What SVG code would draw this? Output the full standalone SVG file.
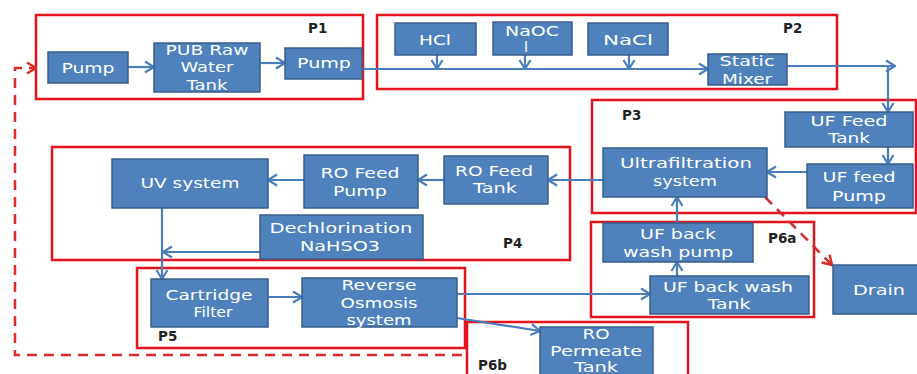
<svg xmlns="http://www.w3.org/2000/svg" width="917" height="374" viewBox="0 0 917 374">
<style>
.bg{fill:#ffffff}
.box{fill:#4F81BD;stroke:#385D8A;stroke-width:1.5}
.t{font-family:"DejaVu Sans","Liberation Sans",sans-serif;font-size:14.5px;fill:#ffffff;text-anchor:middle}
.grp{fill:none;stroke:#E3131B;stroke-width:2.5}
.lbl{font-family:"DejaVu Sans","Liberation Sans",sans-serif;font-size:13.5px;font-weight:bold;fill:#222222}
.c{fill:none;stroke:#4A7EBB;stroke-width:2.2;marker-end:url(#ab)}
.d{fill:none;stroke:#D92B2B;stroke-width:2.5;stroke-dasharray:10 7;marker-end:url(#ar)}
</style>
<defs>
<marker id="ab" viewBox="0 0 12 14" refX="11" refY="7" markerWidth="12" markerHeight="14" markerUnits="userSpaceOnUse" orient="auto">
<path d="M2,1.5 L11,7 L2,12.5" fill="none" stroke="#4A7EBB" stroke-width="2.2"/>
</marker>
<marker id="ar" viewBox="0 0 12 14" refX="11" refY="7" markerWidth="12" markerHeight="14" markerUnits="userSpaceOnUse" orient="auto">
<path d="M2,1.5 L11,7 L2,12.5" fill="none" stroke="#D92B2B" stroke-width="2.5"/>
</marker>
</defs>
<rect class="bg" x="0" y="0" width="917" height="374"/>

<g id="groups">
<g id="P1"><rect class="grp" x="36" y="15" width="327" height="84"/><text class="lbl" x="308" y="33">P1</text></g>
<g id="P2"><rect class="grp" x="377" y="15" width="460" height="74"/><text class="lbl" x="783" y="33">P2</text></g>
<g id="P3"><rect class="grp" x="592" y="100" width="324" height="113"/><text class="lbl" x="622" y="120">P3</text></g>
<g id="P4"><rect class="grp" x="52" y="147" width="518" height="113"/><text class="lbl" x="503" y="248">P4</text></g>
<g id="P5"><rect class="grp" x="137" y="268" width="328" height="80"/><text class="lbl" x="158" y="341">P5</text></g>
<g id="P6a"><rect class="grp" x="591" y="222" width="223" height="95"/><text class="lbl" x="768" y="243">P6a</text></g>
<g id="P6b"><rect class="grp" x="467" y="322" width="221" height="60"/><text class="lbl" x="478" y="370">P6b</text></g>
</g>

<g id="connectors">
<path class="c" d="M128,67 L154,67"/>
<path class="c" d="M260,63 L285,63"/>
<path class="c" d="M362,69 L708,69"/>
<path class="c" d="M437,55 L437,69"/>
<path class="c" d="M525,55 L525,69"/>
<path class="c" d="M629,55 L629,69"/>
<path class="c" d="M787,66 L895,66"/>
<path class="c" d="M888,66 L888,112"/>
<path class="c" d="M888,147 L888,164"/>
<path class="c" d="M807,172 L767,172"/>
<path class="c" d="M603,180 L548,180"/>
<path class="c" d="M444,180 L418,180"/>
<path class="c" d="M304,180 L268,180"/>
<path class="c" d="M162,208 L162,279"/>
<path class="c" d="M260,252 L163,252"/>
<path class="c" d="M268,297 L302,297"/>
<path class="c" d="M457,294 L650,294"/>
<path class="c" d="M457,318 L540,331"/>
<path class="c" d="M677,276 L677,262"/>
<path class="c" d="M677,223 L677,197"/>
<path class="d" d="M765,197 L832,265"/>
<path class="d" d="M462,355 L15,355 L15,68 L36,68"/>
</g>

<g id="n-pump1"><rect class="box" x="48" y="52" width="80" height="31"/><text class="t" x="88" y="73" textLength="53" lengthAdjust="spacingAndGlyphs">Pump</text></g>
<g id="n-pub"><rect class="box" x="154" y="43" width="106" height="49"/>
<text class="t" x="207" y="55" textLength="83" lengthAdjust="spacingAndGlyphs">PUB Raw</text>
<text class="t" x="207" y="72" textLength="53" lengthAdjust="spacingAndGlyphs">Water</text>
<text class="t" x="207" y="90" textLength="41" lengthAdjust="spacingAndGlyphs">Tank</text></g>
<g id="n-pump2"><rect class="box" x="285" y="48" width="77" height="31"/><text class="t" x="324" y="68" textLength="54" lengthAdjust="spacingAndGlyphs">Pump</text></g>
<g id="n-hcl"><rect class="box" x="395" y="23" width="81" height="32"/><text class="t" x="435" y="45" textLength="32" lengthAdjust="spacingAndGlyphs">HCl</text></g>
<g id="n-naocl"><rect class="box" x="493" y="22" width="79" height="33"/>
<text class="t" x="532" y="36" textLength="54" lengthAdjust="spacingAndGlyphs">NaOC</text>
<text class="t" x="526" y="52">l</text></g>
<g id="n-nacl"><rect class="box" x="588" y="23" width="80" height="32"/><text class="t" x="628" y="45" textLength="50" lengthAdjust="spacingAndGlyphs">NaCl</text></g>
<g id="n-mixer"><rect class="box" x="708" y="54" width="79" height="31"/>
<text class="t" x="747" y="66" textLength="55" lengthAdjust="spacingAndGlyphs">Static</text>
<text class="t" x="747" y="84" textLength="50" lengthAdjust="spacingAndGlyphs">Mixer</text></g>
<g id="n-ufft"><rect class="box" x="785" y="112" width="128" height="35"/>
<text class="t" x="849" y="126" textLength="77" lengthAdjust="spacingAndGlyphs">UF Feed</text>
<text class="t" x="849" y="143" textLength="42" lengthAdjust="spacingAndGlyphs">Tank</text></g>
<g id="n-ufpump"><rect class="box" x="807" y="164" width="106" height="44"/>
<text class="t" x="859" y="182" textLength="73" lengthAdjust="spacingAndGlyphs">UF feed</text>
<text class="t" x="859" y="201" textLength="54" lengthAdjust="spacingAndGlyphs">Pump</text></g>
<g id="n-uf"><rect class="box" x="603" y="148" width="164" height="49"/>
<text class="t" x="686" y="168" textLength="132" lengthAdjust="spacingAndGlyphs">Ultrafiltration</text>
<text class="t" x="685" y="186" textLength="64" lengthAdjust="spacingAndGlyphs">system</text></g>
<g id="n-bwpump"><rect class="box" x="603" y="223" width="150" height="39"/>
<text class="t" x="678" y="239" textLength="76" lengthAdjust="spacingAndGlyphs">UF back</text>
<text class="t" x="678" y="257" textLength="110" lengthAdjust="spacingAndGlyphs">wash pump</text></g>
<g id="n-bwtank"><rect class="box" x="650" y="276" width="159" height="38"/>
<text class="t" x="728" y="292" textLength="130" lengthAdjust="spacingAndGlyphs">UF back wash</text>
<text class="t" x="729" y="309" textLength="43" lengthAdjust="spacingAndGlyphs">Tank</text></g>
<g id="n-drain"><rect class="box" x="833" y="265" width="86" height="49"/><text class="t" x="879" y="295" textLength="52" lengthAdjust="spacingAndGlyphs">Drain</text></g>
<g id="n-roft"><rect class="box" x="444" y="156" width="104" height="48"/>
<text class="t" x="494" y="176" textLength="78" lengthAdjust="spacingAndGlyphs">RO Feed</text>
<text class="t" x="495" y="193" textLength="44" lengthAdjust="spacingAndGlyphs">Tank</text></g>
<g id="n-rofp"><rect class="box" x="304" y="155" width="114" height="53"/>
<text class="t" x="360" y="178" textLength="79" lengthAdjust="spacingAndGlyphs">RO Feed</text>
<text class="t" x="360" y="196" textLength="54" lengthAdjust="spacingAndGlyphs">Pump</text></g>
<g id="n-uv"><rect class="box" x="112" y="159" width="156" height="49"/><text class="t" x="190" y="188" textLength="99" lengthAdjust="spacingAndGlyphs">UV system</text></g>
<g id="n-dechl"><rect class="box" x="260" y="215" width="163" height="44"/>
<text class="t" x="341" y="233" textLength="143" lengthAdjust="spacingAndGlyphs">Dechlorination</text>
<text class="t" x="340" y="251" textLength="80" lengthAdjust="spacingAndGlyphs">NaHSO3</text></g>
<g id="n-cart"><rect class="box" x="151" y="279" width="117" height="48"/>
<text class="t" x="209" y="300" textLength="87" lengthAdjust="spacingAndGlyphs">Cartridge</text>
<text class="t" x="213" y="317" textLength="39" lengthAdjust="spacingAndGlyphs">Filter</text></g>
<g id="n-ro"><rect class="box" x="302" y="278" width="155" height="49"/>
<text class="t" x="379" y="290" textLength="75" lengthAdjust="spacingAndGlyphs">Reverse</text>
<text class="t" x="379" y="308" textLength="77" lengthAdjust="spacingAndGlyphs">Osmosis</text>
<text class="t" x="379" y="325" textLength="65" lengthAdjust="spacingAndGlyphs">system</text></g>
<g id="n-perm"><rect class="box" x="540" y="327" width="113" height="55"/>
<text class="t" x="596" y="339" textLength="27" lengthAdjust="spacingAndGlyphs">RO</text>
<text class="t" x="596" y="356" textLength="92" lengthAdjust="spacingAndGlyphs">Permeate</text>
<text class="t" x="596" y="372" textLength="44" lengthAdjust="spacingAndGlyphs">Tank</text></g>
</svg>
